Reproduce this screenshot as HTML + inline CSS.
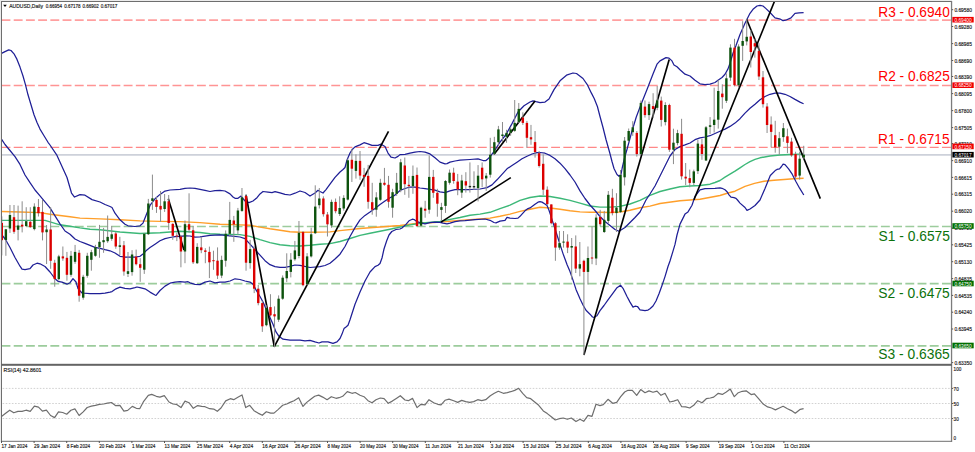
<!DOCTYPE html>
<html><head><meta charset="utf-8"><title>AUDUSD Daily</title>
<style>html,body{margin:0;padding:0;background:#fff;width:975px;height:452px;overflow:hidden;font-family:"Liberation Sans", sans-serif;}</style>
</head><body>
<svg width="975" height="452" viewBox="0 0 975 452" style="display:block"><rect x="0" y="0" width="975" height="452" fill="#ffffff"/><rect x="0" y="0" width="952" height="1" fill="#ececec"/><rect x="0" y="0" width="1" height="442" fill="#ececec"/><defs><clipPath id="cm"><rect x="1.5" y="1.5" width="949.5" height="362.5"/></clipPath><clipPath id="cr"><rect x="1.5" y="366" width="949.5" height="75"/></clipPath></defs><line x1="1.5" y1="20.1" x2="951" y2="20.1" stroke="#ffa0a0" stroke-width="1.8" stroke-dasharray="8.9 3.314"/><line x1="1.5" y1="85.4" x2="951" y2="85.4" stroke="#ff9494" stroke-width="1.5" stroke-dasharray="8.9 3.314"/><line x1="1.5" y1="147.4" x2="951" y2="147.4" stroke="#ff8888" stroke-width="1.3" stroke-dasharray="8.9 3.314"/><line x1="1.5" y1="226.5" x2="951" y2="226.5" stroke="#9ccc9c" stroke-width="1.7" stroke-dasharray="8.9 3.314"/><line x1="1.5" y1="283.6" x2="951" y2="283.6" stroke="#9ccc9c" stroke-width="1.7" stroke-dasharray="8.9 3.314"/><line x1="1.5" y1="345.8" x2="951" y2="345.8" stroke="#9ccc9c" stroke-width="1.7" stroke-dasharray="8.9 3.314"/><line x1="1.5" y1="154.9" x2="951" y2="154.9" stroke="#cdd1da" stroke-width="1.8"/><g clip-path="url(#cm)"><path d="M1.5,211.5 L20.0,212.0 L40.0,212.6 L50.0,214.2 L60.0,215.5 L70.0,216.8 L80.0,218.1 L100.0,218.9 L120.0,219.8 L140.0,220.9 L160.0,221.4 L180.0,221.6 L200.0,222.6 L220.0,224.2 L240.0,224.9 L250.0,225.3 L260.0,227.1 L270.0,228.8 L280.0,230.2 L290.0,231.8 L300.0,232.3 L310.0,232.3 L320.0,232.1 L330.0,231.9 L340.0,230.6 L360.0,228.5 L380.0,227.0 L400.0,225.5 L410.0,224.2 L420.0,223.0 L430.0,222.7 L440.0,222.1 L450.0,221.3 L460.0,220.4 L480.0,219.0 L490.0,218.1 L500.0,216.3 L510.0,214.1 L520.0,211.4 L530.0,209.2 L540.0,207.3 L550.0,208.0 L560.0,209.3 L570.0,210.8 L580.0,211.9 L590.0,212.2 L600.0,212.3 L610.0,212.5 L620.0,212.0 L630.0,210.3 L640.0,207.8 L650.0,206.1 L660.0,203.5 L680.0,200.8 L700.0,199.3 L720.0,195.5 L728.0,193.0 L735.0,191.2 L745.0,186.4 L754.5,183.4 L764.0,181.3 L774.0,180.3 L784.0,179.5 L793.5,178.7 L803.6,178.2" fill="none" stroke="#ff9f2a" stroke-width="1.4" stroke-linejoin="round"/><path d="M1.5,220.4 L45.0,220.4 L50.0,221.9 L60.0,224.8 L70.0,226.3 L80.0,227.9 L90.0,229.2 L100.0,229.7 L120.0,232.0 L140.0,233.5 L160.0,232.7 L180.0,231.3 L200.0,232.5 L210.0,233.7 L220.0,234.2 L240.0,234.6 L250.0,236.4 L260.0,239.7 L270.0,242.6 L280.0,244.8 L290.0,245.7 L300.0,246.0 L310.0,245.3 L320.0,244.2 L330.0,243.6 L340.0,241.5 L350.0,238.5 L360.0,235.4 L370.0,233.3 L380.0,231.3 L390.0,229.3 L400.0,227.1 L410.0,224.9 L420.0,223.2 L440.0,221.4 L460.0,217.5 L470.0,215.2 L480.0,214.1 L490.0,212.3 L500.0,208.6 L510.0,205.2 L520.0,200.4 L530.0,197.5 L540.0,196.0 L550.0,196.5 L560.0,198.2 L570.0,200.4 L580.0,203.1 L590.0,206.0 L600.0,207.1 L610.0,207.1 L620.0,206.4 L630.0,204.0 L640.0,200.4 L650.0,195.3 L660.0,191.5 L670.0,189.0 L680.0,186.7 L690.0,186.0 L700.0,185.5 L710.0,184.2 L715.0,182.5 L720.0,180.5 L725.0,177.2 L730.0,174.2 L735.0,171.2 L740.0,167.8 L745.0,164.5 L750.0,161.7 L755.0,159.4 L760.0,157.8 L770.0,156.0 L780.0,155.0 L790.0,154.5 L800.0,154.1 L803.6,154.1" fill="none" stroke="#3cb878" stroke-width="1.4" stroke-linejoin="round"/><path d="M1.5,53.4 L5.0,51.6 L8.8,49.9 L11.0,50.5 L14.0,53.8 L17.0,59.4 L20.0,67.1 L23.0,76.0 L25.5,84.8 L28.0,94.8 L31.0,104.7 L34.0,114.7 L37.0,122.4 L40.0,129.1 L44.0,135.7 L48.0,142.3 L50.0,145.0 L57.0,155.4 L62.0,166.5 L67.0,177.5 L71.5,193.0 L74.5,197.0 L80.0,194.6 L85.0,195.2 L92.0,199.6 L100.0,202.0 L105.0,204.5 L110.0,206.5 L112.0,207.5 L115.0,213.2 L120.0,219.8 L125.0,224.2 L128.0,225.8 L135.0,226.5 L140.0,225.8 L143.0,223.1 L146.0,215.4 L150.0,205.4 L155.0,198.8 L160.0,194.4 L165.0,191.1 L170.0,190.0 L180.0,189.3 L185.0,188.4 L190.0,188.0 L195.0,188.4 L200.0,189.4 L205.0,190.4 L210.0,191.5 L215.0,190.6 L220.0,190.4 L225.0,191.0 L230.0,193.9 L233.0,197.0 L235.0,198.3 L238.0,198.3 L241.0,196.1 L245.0,201.0 L249.0,202.7 L253.0,201.0 L257.0,197.7 L260.0,193.9 L263.0,191.5 L268.0,192.1 L272.0,192.6 L275.0,191.7 L280.0,192.8 L285.0,194.3 L290.0,195.0 L295.0,193.2 L300.0,191.0 L305.0,192.5 L310.0,196.0 L315.0,193.0 L318.0,190.3 L320.0,191.5 L323.0,193.0 L326.0,189.6 L330.0,184.1 L335.0,177.4 L340.0,172.0 L343.0,169.5 L345.0,167.5 L347.0,160.0 L350.0,153.0 L352.0,149.8 L355.0,146.9 L360.0,144.9 L364.0,142.7 L368.0,143.8 L372.0,145.4 L378.0,145.4 L381.0,144.2 L385.0,146.5 L388.0,153.1 L391.0,157.1 L395.0,158.0 L398.0,156.4 L400.0,154.6 L405.0,154.3 L410.0,153.2 L415.0,152.1 L420.0,151.5 L425.0,152.1 L430.0,153.9 L435.0,157.7 L440.0,162.1 L445.0,163.8 L447.0,163.6 L450.0,162.1 L455.0,161.0 L460.0,160.2 L470.0,159.5 L478.0,158.8 L483.0,160.5 L486.0,160.5 L488.0,158.8 L490.0,156.9 L495.0,150.0 L500.0,142.2 L506.0,134.5 L512.0,123.6 L518.0,112.0 L524.0,105.8 L530.0,102.0 L533.0,100.8 L536.0,101.7 L540.0,102.6 L545.0,102.1 L549.0,99.0 L554.0,89.6 L560.0,80.8 L566.5,75.2 L573.0,73.0 L576.5,73.5 L583.0,78.5 L587.6,85.2 L591.3,92.9 L594.2,98.5 L597.4,106.5 L600.0,116.5 L603.0,127.5 L606.0,139.5 L609.8,153.0 L612.0,161.5 L614.0,168.5 L617.0,174.5 L619.0,176.3 L621.0,174.5 L622.2,168.0 L624.5,158.0 L626.9,149.8 L631.5,132.8 L636.2,117.3 L640.8,104.9 L647.0,89.5 L653.2,73.5 L657.0,64.2 L660.0,60.9 L666.0,57.6 L669.0,58.1 L672.0,60.9 L674.0,65.0 L677.0,66.8 L680.0,69.8 L685.0,74.2 L690.0,76.0 L695.0,80.3 L700.0,83.8 L705.0,84.7 L710.0,84.2 L715.0,82.5 L718.0,80.3 L722.0,77.5 L725.0,74.3 L728.0,68.9 L730.0,63.3 L733.0,53.2 L736.0,45.5 L740.0,34.5 L745.0,23.2 L750.0,13.3 L753.0,9.3 L757.0,6.0 L760.0,5.3 L763.0,6.0 L766.0,8.6 L770.0,12.5 L775.0,17.9 L780.4,19.2 L783.0,20.6 L785.7,20.2 L791.0,17.9 L795.0,13.3 L799.0,12.9 L803.6,12.6" fill="none" stroke="#1f1f96" stroke-width="1.25" stroke-linejoin="round"/><path d="M1.5,139.0 L5.0,144.5 L10.0,150.5 L15.0,156.6 L20.0,164.4 L25.0,175.0 L30.0,182.7 L35.0,190.0 L40.0,195.9 L45.0,201.9 L50.0,207.9 L55.0,215.8 L60.0,223.8 L65.0,231.0 L70.0,234.2 L75.0,239.0 L80.0,241.5 L85.0,243.3 L90.0,245.3 L95.0,247.3 L100.0,248.3 L105.0,249.7 L110.0,250.8 L115.0,253.0 L120.0,256.3 L125.0,257.0 L135.0,257.0 L140.0,256.3 L143.0,254.1 L146.0,250.8 L150.0,247.5 L155.0,244.2 L160.0,240.8 L165.0,238.6 L170.0,237.5 L175.0,236.6 L180.0,236.4 L185.0,235.8 L190.0,236.0 L195.0,237.1 L200.0,236.8 L210.0,235.3 L220.0,234.8 L230.0,235.9 L240.0,237.0 L245.0,238.6 L250.0,244.1 L255.0,249.6 L260.0,255.2 L265.0,260.7 L270.0,264.7 L275.0,266.7 L280.0,267.3 L285.0,267.3 L290.0,266.4 L295.0,265.0 L300.0,265.3 L310.0,267.5 L320.0,266.7 L325.0,265.5 L330.0,263.2 L335.0,259.0 L340.0,254.2 L345.0,246.5 L350.0,236.5 L355.0,227.6 L360.0,219.9 L365.0,215.4 L370.0,212.1 L375.0,208.4 L380.0,204.4 L385.0,201.0 L390.0,197.7 L395.0,195.1 L400.0,190.5 L405.0,188.5 L410.0,187.0 L415.0,187.1 L420.0,188.0 L425.0,188.6 L430.0,189.3 L435.0,190.2 L440.0,191.9 L445.0,192.6 L450.0,190.8 L455.0,189.7 L460.0,189.5 L470.0,189.5 L480.0,189.0 L487.0,187.6 L492.0,184.9 L497.0,179.8 L502.0,174.3 L507.0,168.8 L512.0,165.5 L517.0,162.2 L522.0,158.8 L527.0,156.2 L532.0,154.0 L537.0,152.7 L540.0,152.5 L545.0,153.2 L550.0,155.4 L555.0,158.7 L560.0,163.2 L565.0,168.7 L570.0,175.0 L575.0,182.0 L580.0,190.9 L585.0,198.5 L590.0,205.0 L595.0,210.5 L600.0,216.5 L605.0,221.5 L610.0,225.5 L615.0,229.5 L619.0,231.3 L625.0,227.5 L630.0,222.5 L635.0,217.5 L640.0,212.0 L646.0,200.0 L650.0,194.0 L655.0,186.0 L660.0,176.0 L665.0,166.0 L670.0,156.0 L675.0,149.5 L680.0,146.6 L685.0,144.9 L690.0,143.0 L695.0,139.7 L700.0,137.9 L705.0,137.0 L710.0,135.7 L715.0,133.5 L720.0,131.3 L725.0,129.1 L730.0,126.4 L735.0,123.1 L740.0,118.7 L745.0,113.1 L750.0,108.3 L755.0,104.3 L760.0,99.8 L765.0,96.5 L770.0,94.3 L775.0,93.2 L780.0,93.2 L785.0,94.3 L790.0,96.5 L795.0,99.4 L800.0,102.1 L803.6,103.8" fill="none" stroke="#1f1f96" stroke-width="1.25" stroke-linejoin="round"/><path d="M1.5,234.4 L5.5,239.5 L10.0,247.5 L15.0,257.5 L20.0,266.2 L22.0,269.2 L25.0,269.6 L30.0,268.7 L33.0,265.0 L37.0,263.2 L40.0,263.8 L45.0,266.5 L50.0,272.0 L55.0,278.7 L58.0,281.3 L62.0,282.2 L67.0,284.2 L70.0,282.7 L73.0,278.7 L76.0,282.0 L78.0,288.6 L82.0,293.0 L90.0,293.7 L100.0,293.6 L105.0,293.2 L110.0,292.1 L112.0,291.6 L116.0,288.8 L120.0,287.2 L125.0,288.3 L130.0,288.8 L135.0,287.7 L137.0,287.0 L140.0,287.7 L145.0,288.8 L150.0,292.1 L155.0,295.0 L156.0,295.4 L160.0,290.5 L165.0,286.1 L170.0,283.2 L175.0,282.1 L180.0,281.7 L185.0,282.1 L188.0,281.7 L190.0,282.8 L195.0,284.3 L200.0,284.6 L205.0,282.1 L210.0,281.0 L215.0,282.8 L220.0,282.1 L225.0,282.1 L230.0,281.0 L235.0,278.8 L240.0,279.5 L245.0,281.0 L250.0,282.1 L253.0,284.3 L256.0,289.9 L260.0,296.5 L263.0,302.0 L266.0,308.7 L270.0,317.5 L273.0,324.2 L276.0,331.9 L279.0,336.3 L283.0,339.2 L290.0,340.1 L300.0,340.1 L305.0,340.8 L310.0,340.3 L315.0,341.9 L319.0,343.0 L322.0,341.9 L328.0,341.9 L333.0,343.4 L337.0,341.9 L340.0,338.5 L342.0,334.1 L344.0,328.6 L346.0,327.0 L348.0,325.3 L350.0,319.7 L355.0,304.2 L360.0,292.1 L365.0,281.0 L370.0,272.0 L375.0,266.6 L378.0,265.3 L380.0,263.5 L382.0,258.0 L384.0,249.0 L386.7,240.8 L389.0,235.0 L391.8,231.5 L396.0,229.5 L400.0,229.0 L402.0,228.0 L406.0,224.4 L409.0,220.8 L412.3,219.2 L414.4,219.7 L416.4,221.3 L420.0,222.7 L425.0,223.8 L430.0,222.7 L435.0,222.1 L440.0,222.3 L443.0,223.2 L447.0,223.8 L450.0,223.2 L455.0,221.6 L460.0,220.8 L465.0,220.7 L475.0,219.6 L485.0,219.0 L490.0,220.3 L494.0,222.5 L496.0,222.9 L500.0,221.2 L505.0,220.3 L507.0,217.4 L510.0,218.1 L515.0,218.5 L518.0,218.1 L520.0,216.3 L522.0,214.1 L525.0,210.8 L528.0,208.6 L530.0,207.9 L535.0,204.3 L538.0,202.2 L540.0,201.6 L542.0,202.1 L545.0,204.0 L547.0,205.5 L549.0,210.2 L551.0,216.4 L553.0,222.6 L555.0,228.8 L557.0,235.0 L559.0,241.2 L561.0,247.4 L563.0,253.6 L565.0,259.0 L567.0,264.5 L570.0,271.6 L573.0,280.1 L576.0,289.4 L580.0,298.7 L583.0,305.0 L586.0,310.3 L590.0,314.2 L592.5,317.0 L594.0,317.3 L597.0,315.7 L600.0,310.6 L604.0,305.5 L608.0,299.9 L613.0,293.2 L617.0,287.7 L620.5,285.2 L623.0,288.3 L627.0,296.5 L630.0,302.1 L633.0,307.1 L635.0,306.2 L637.5,306.5 L640.0,309.8 L645.0,310.6 L648.0,310.1 L650.0,308.7 L653.0,306.0 L656.0,301.0 L659.0,293.8 L662.0,285.5 L665.0,276.6 L668.0,266.5 L670.0,261.0 L673.0,251.1 L675.0,244.4 L677.0,235.0 L680.0,224.1 L685.0,214.1 L688.0,211.9 L692.0,205.3 L695.0,196.4 L700.0,189.8 L705.0,188.6 L715.0,188.3 L720.0,187.9 L722.0,188.3 L725.0,189.8 L727.0,191.7 L729.0,194.8 L731.0,197.2 L734.0,197.6 L736.0,198.3 L737.5,200.0 L740.0,203.1 L745.0,207.5 L747.0,210.4 L750.0,209.0 L755.0,205.5 L760.0,200.0 L765.0,188.5 L770.3,175.5 L775.2,170.6 L777.0,169.4 L779.5,168.8 L781.5,166.5 L783.1,164.2 L785.0,164.6 L788.6,168.8 L792.2,174.2 L795.9,181.5 L799.6,188.2 L803.8,195.0" fill="none" stroke="#1f1f96" stroke-width="1.25" stroke-linejoin="round"/><line x1="168.3" y1="198.7" x2="184" y2="250" stroke="#000" stroke-width="1.65"/><line x1="246" y1="195" x2="274.3" y2="346.7" stroke="#000" stroke-width="1.65"/><line x1="274.3" y1="346.7" x2="388.5" y2="131.4" stroke="#000" stroke-width="1.65"/><line x1="441" y1="222.1" x2="510.8" y2="177.6" stroke="#000" stroke-width="1.65"/><line x1="493.9" y1="154.6" x2="535" y2="100.9" stroke="#000" stroke-width="1.65"/><line x1="583.9" y1="355" x2="669.2" y2="59.4" stroke="#000" stroke-width="1.65"/><line x1="694" y1="199.7" x2="774.4" y2="1.5" stroke="#000" stroke-width="1.65"/><line x1="746.6" y1="19.2" x2="820.3" y2="198.6" stroke="#000" stroke-width="1.65"/><rect x="1.30" y="216.3" width="1" height="39.1" fill="#8c8c8c"/><rect x="0.60" y="222.9" width="2.4" height="17.3" fill="#dc0000"/><rect x="5.37" y="228.9" width="1" height="26.9" fill="#8c8c8c"/><rect x="4.67" y="229.3" width="2.4" height="10.7" fill="#0c520c"/><rect x="9.44" y="205.0" width="1" height="27.9" fill="#8c8c8c"/><rect x="8.74" y="215.0" width="2.4" height="13.5" fill="#0c520c"/><rect x="13.51" y="205.0" width="1" height="28.8" fill="#8c8c8c"/><rect x="12.81" y="217.2" width="2.4" height="14.6" fill="#dc0000"/><rect x="17.58" y="205.6" width="1" height="34.8" fill="#8c8c8c"/><rect x="16.88" y="225.5" width="2.4" height="4.3" fill="#0c520c"/><rect x="21.65" y="201.3" width="1" height="31.1" fill="#8c8c8c"/><rect x="20.95" y="224.7" width="2.4" height="1.8" fill="#dc0000"/><rect x="25.72" y="207.2" width="1" height="19.8" fill="#8c8c8c"/><rect x="25.02" y="221.2" width="2.4" height="4.8" fill="#0c520c"/><rect x="29.79" y="207.2" width="1" height="20.6" fill="#8c8c8c"/><rect x="29.09" y="221.8" width="2.4" height="5.3" fill="#dc0000"/><rect x="33.86" y="203.3" width="1" height="27.1" fill="#8c8c8c"/><rect x="33.16" y="206.6" width="2.4" height="22.5" fill="#0c520c"/><rect x="37.94" y="199.0" width="1" height="17.5" fill="#8c8c8c"/><rect x="37.24" y="207.0" width="2.4" height="6.2" fill="#dc0000"/><rect x="42.01" y="200.0" width="1" height="40.4" fill="#8c8c8c"/><rect x="41.31" y="211.9" width="2.4" height="20.5" fill="#dc0000"/><rect x="46.08" y="225.0" width="1" height="39.0" fill="#8c8c8c"/><rect x="45.38" y="229.5" width="2.4" height="2.7" fill="#0c520c"/><rect x="50.15" y="207.2" width="1" height="61.6" fill="#8c8c8c"/><rect x="49.45" y="229.5" width="2.4" height="31.3" fill="#dc0000"/><rect x="54.22" y="259.8" width="1" height="26.9" fill="#8c8c8c"/><rect x="53.52" y="262.8" width="2.4" height="16.3" fill="#dc0000"/><rect x="58.29" y="254.8" width="1" height="25.9" fill="#8c8c8c"/><rect x="57.59" y="256.4" width="2.4" height="22.7" fill="#0c520c"/><rect x="62.36" y="246.5" width="1" height="14.3" fill="#8c8c8c"/><rect x="61.66" y="256.4" width="2.4" height="2.0" fill="#dc0000"/><rect x="66.43" y="251.9" width="1" height="28.8" fill="#8c8c8c"/><rect x="65.73" y="257.8" width="2.4" height="17.0" fill="#dc0000"/><rect x="70.50" y="250.9" width="1" height="25.9" fill="#8c8c8c"/><rect x="69.80" y="255.8" width="2.4" height="19.0" fill="#0c520c"/><rect x="74.57" y="244.9" width="1" height="18.9" fill="#8c8c8c"/><rect x="73.87" y="251.9" width="2.4" height="9.9" fill="#0c520c"/><rect x="78.64" y="249.9" width="1" height="51.8" fill="#8c8c8c"/><rect x="77.94" y="252.8" width="2.4" height="42.9" fill="#dc0000"/><rect x="82.71" y="274.8" width="1" height="24.9" fill="#8c8c8c"/><rect x="82.01" y="276.8" width="2.4" height="20.9" fill="#0c520c"/><rect x="86.78" y="252.8" width="1" height="24.9" fill="#8c8c8c"/><rect x="86.08" y="255.8" width="2.4" height="20.0" fill="#0c520c"/><rect x="90.85" y="249.8" width="1" height="20.9" fill="#8c8c8c"/><rect x="90.15" y="252.2" width="2.4" height="7.6" fill="#0c520c"/><rect x="94.92" y="244.8" width="1" height="12.0" fill="#8c8c8c"/><rect x="94.22" y="247.2" width="2.4" height="8.6" fill="#0c520c"/><rect x="98.99" y="224.9" width="1" height="32.9" fill="#8c8c8c"/><rect x="98.29" y="241.8" width="2.4" height="5.4" fill="#0c520c"/><rect x="103.06" y="227.9" width="1" height="24.9" fill="#8c8c8c"/><rect x="102.36" y="240.2" width="2.4" height="2.0" fill="#0c520c"/><rect x="107.14" y="215.5" width="1" height="27.3" fill="#8c8c8c"/><rect x="106.44" y="236.9" width="2.4" height="4.3" fill="#0c520c"/><rect x="111.21" y="225.9" width="1" height="14.9" fill="#8c8c8c"/><rect x="110.51" y="234.3" width="2.4" height="4.5" fill="#0c520c"/><rect x="115.28" y="231.9" width="1" height="16.9" fill="#8c8c8c"/><rect x="114.58" y="233.5" width="2.4" height="13.0" fill="#dc0000"/><rect x="119.35" y="236.8" width="1" height="18.2" fill="#8c8c8c"/><rect x="118.65" y="245.3" width="2.4" height="1.6" fill="#0c520c"/><rect x="123.42" y="241.0" width="1" height="34.7" fill="#8c8c8c"/><rect x="122.72" y="245.3" width="2.4" height="26.2" fill="#dc0000"/><rect x="127.49" y="252.0" width="1" height="25.0" fill="#8c8c8c"/><rect x="126.79" y="271.2" width="2.4" height="2.7" fill="#0c520c"/><rect x="131.56" y="250.2" width="1" height="25.5" fill="#8c8c8c"/><rect x="130.86" y="254.5" width="2.4" height="17.6" fill="#0c520c"/><rect x="135.63" y="249.6" width="1" height="15.8" fill="#8c8c8c"/><rect x="134.93" y="256.6" width="2.4" height="7.6" fill="#dc0000"/><rect x="139.70" y="258.1" width="1" height="23.7" fill="#8c8c8c"/><rect x="139.00" y="264.2" width="2.4" height="3.6" fill="#dc0000"/><rect x="143.77" y="233.0" width="1" height="40.9" fill="#8c8c8c"/><rect x="143.07" y="233.8" width="2.4" height="35.9" fill="#0c520c"/><rect x="147.84" y="198.9" width="1" height="36.1" fill="#8c8c8c"/><rect x="147.14" y="203.5" width="2.4" height="30.7" fill="#0c520c"/><rect x="151.91" y="174.6" width="1" height="35.3" fill="#8c8c8c"/><rect x="151.21" y="198.3" width="2.4" height="2.6" fill="#0c520c"/><rect x="155.98" y="196.9" width="1" height="16.0" fill="#8c8c8c"/><rect x="155.28" y="199.9" width="2.4" height="7.0" fill="#dc0000"/><rect x="160.05" y="191.0" width="1" height="30.8" fill="#8c8c8c"/><rect x="159.35" y="205.9" width="2.4" height="3.6" fill="#dc0000"/><rect x="164.12" y="194.0" width="1" height="17.9" fill="#8c8c8c"/><rect x="163.42" y="201.3" width="2.4" height="7.7" fill="#0c520c"/><rect x="168.19" y="195.0" width="1" height="34.8" fill="#8c8c8c"/><rect x="167.49" y="201.3" width="2.4" height="21.7" fill="#dc0000"/><rect x="172.27" y="223.2" width="1" height="16.6" fill="#8c8c8c"/><rect x="171.57" y="223.9" width="2.4" height="11.9" fill="#dc0000"/><rect x="176.34" y="232.5" width="1" height="8.6" fill="#8c8c8c"/><rect x="175.64" y="235.5" width="2.4" height="1.0" fill="#dc0000"/><rect x="180.41" y="235.0" width="1" height="32.3" fill="#8c8c8c"/><rect x="179.71" y="236.6" width="2.4" height="14.9" fill="#dc0000"/><rect x="184.48" y="220.5" width="1" height="42.7" fill="#8c8c8c"/><rect x="183.78" y="224.2" width="2.4" height="27.3" fill="#0c520c"/><rect x="188.55" y="193.3" width="1" height="39.2" fill="#8c8c8c"/><rect x="187.85" y="224.2" width="2.4" height="5.5" fill="#dc0000"/><rect x="192.62" y="225.9" width="1" height="38.1" fill="#8c8c8c"/><rect x="191.92" y="230.3" width="2.4" height="32.0" fill="#dc0000"/><rect x="196.69" y="243.2" width="1" height="20.8" fill="#8c8c8c"/><rect x="195.99" y="246.9" width="2.4" height="16.3" fill="#0c520c"/><rect x="200.76" y="236.6" width="1" height="16.6" fill="#8c8c8c"/><rect x="200.06" y="247.4" width="2.4" height="2.8" fill="#dc0000"/><rect x="204.83" y="248.2" width="1" height="15.0" fill="#8c8c8c"/><rect x="204.13" y="250.4" width="2.4" height="1.5" fill="#dc0000"/><rect x="208.90" y="246.6" width="1" height="31.5" fill="#8c8c8c"/><rect x="208.20" y="251.9" width="2.4" height="10.4" fill="#dc0000"/><rect x="212.97" y="250.7" width="1" height="19.1" fill="#8c8c8c"/><rect x="212.27" y="260.2" width="2.4" height="1.0" fill="#dc0000"/><rect x="217.04" y="247.4" width="1" height="31.6" fill="#8c8c8c"/><rect x="216.34" y="260.7" width="2.4" height="14.9" fill="#dc0000"/><rect x="221.11" y="255.7" width="1" height="22.4" fill="#8c8c8c"/><rect x="220.41" y="259.9" width="2.4" height="15.7" fill="#0c520c"/><rect x="225.18" y="230.4" width="1" height="36.3" fill="#8c8c8c"/><rect x="224.48" y="233.8" width="2.4" height="26.9" fill="#0c520c"/><rect x="229.25" y="201.9" width="1" height="34.9" fill="#8c8c8c"/><rect x="228.55" y="219.9" width="2.4" height="13.9" fill="#0c520c"/><rect x="233.32" y="215.9" width="1" height="25.9" fill="#8c8c8c"/><rect x="232.62" y="220.5" width="2.4" height="3.9" fill="#dc0000"/><rect x="237.39" y="207.9" width="1" height="26.9" fill="#8c8c8c"/><rect x="236.69" y="210.5" width="2.4" height="19.9" fill="#0c520c"/><rect x="241.47" y="188.0" width="1" height="23.9" fill="#8c8c8c"/><rect x="240.77" y="197.4" width="2.4" height="13.5" fill="#0c520c"/><rect x="245.54" y="194.0" width="1" height="76.7" fill="#8c8c8c"/><rect x="244.84" y="196.0" width="2.4" height="66.7" fill="#dc0000"/><rect x="249.61" y="239.8" width="1" height="28.9" fill="#8c8c8c"/><rect x="248.91" y="249.1" width="2.4" height="14.0" fill="#0c520c"/><rect x="253.68" y="245.8" width="1" height="47.3" fill="#8c8c8c"/><rect x="252.98" y="248.7" width="2.4" height="40.0" fill="#dc0000"/><rect x="257.75" y="285.0" width="1" height="20.3" fill="#8c8c8c"/><rect x="257.05" y="288.7" width="2.4" height="14.4" fill="#dc0000"/><rect x="261.82" y="300.9" width="1" height="31.0" fill="#8c8c8c"/><rect x="261.12" y="303.1" width="2.4" height="23.2" fill="#dc0000"/><rect x="265.89" y="305.3" width="1" height="21.0" fill="#8c8c8c"/><rect x="265.19" y="308.0" width="2.4" height="17.2" fill="#0c520c"/><rect x="269.96" y="294.2" width="1" height="22.2" fill="#8c8c8c"/><rect x="269.26" y="307.1" width="2.4" height="8.2" fill="#dc0000"/><rect x="274.03" y="306.4" width="1" height="40.9" fill="#8c8c8c"/><rect x="273.33" y="314.2" width="2.4" height="2.2" fill="#dc0000"/><rect x="278.10" y="295.4" width="1" height="26.5" fill="#8c8c8c"/><rect x="277.40" y="298.7" width="2.4" height="21.0" fill="#0c520c"/><rect x="282.17" y="275.4" width="1" height="24.4" fill="#8c8c8c"/><rect x="281.47" y="277.7" width="2.4" height="21.0" fill="#0c520c"/><rect x="286.24" y="253.3" width="1" height="28.8" fill="#8c8c8c"/><rect x="285.54" y="271.0" width="2.4" height="7.3" fill="#0c520c"/><rect x="290.31" y="253.1" width="1" height="24.3" fill="#8c8c8c"/><rect x="289.61" y="259.7" width="2.4" height="12.2" fill="#0c520c"/><rect x="294.38" y="240.9" width="1" height="19.9" fill="#8c8c8c"/><rect x="293.68" y="250.4" width="2.4" height="8.9" fill="#0c520c"/><rect x="298.45" y="221.0" width="1" height="37.3" fill="#8c8c8c"/><rect x="297.75" y="232.8" width="2.4" height="23.2" fill="#0c520c"/><rect x="302.52" y="231.0" width="1" height="55.3" fill="#8c8c8c"/><rect x="301.82" y="232.1" width="2.4" height="53.1" fill="#dc0000"/><rect x="306.59" y="253.1" width="1" height="32.1" fill="#8c8c8c"/><rect x="305.89" y="256.4" width="2.4" height="27.7" fill="#0c520c"/><rect x="310.67" y="227.7" width="1" height="29.8" fill="#8c8c8c"/><rect x="309.97" y="234.3" width="2.4" height="22.1" fill="#0c520c"/><rect x="314.74" y="185.3" width="1" height="48.7" fill="#8c8c8c"/><rect x="314.04" y="206.6" width="2.4" height="26.6" fill="#0c520c"/><rect x="318.81" y="188.0" width="1" height="20.5" fill="#8c8c8c"/><rect x="318.11" y="198.5" width="2.4" height="6.7" fill="#0c520c"/><rect x="322.88" y="196.3" width="1" height="20.3" fill="#8c8c8c"/><rect x="322.18" y="198.5" width="2.4" height="15.7" fill="#dc0000"/><rect x="326.95" y="212.0" width="1" height="24.5" fill="#8c8c8c"/><rect x="326.25" y="214.5" width="2.4" height="9.8" fill="#dc0000"/><rect x="331.02" y="199.6" width="1" height="28.1" fill="#8c8c8c"/><rect x="330.32" y="201.9" width="2.4" height="23.5" fill="#0c520c"/><rect x="335.09" y="198.5" width="1" height="14.8" fill="#8c8c8c"/><rect x="334.39" y="201.9" width="2.4" height="9.3" fill="#dc0000"/><rect x="339.16" y="196.3" width="1" height="19.7" fill="#8c8c8c"/><rect x="338.46" y="208.0" width="2.4" height="6.0" fill="#0c520c"/><rect x="343.23" y="195.2" width="1" height="15.5" fill="#8c8c8c"/><rect x="342.53" y="197.9" width="2.4" height="10.6" fill="#0c520c"/><rect x="347.30" y="158.7" width="1" height="41.8" fill="#8c8c8c"/><rect x="346.60" y="160.3" width="2.4" height="39.3" fill="#0c520c"/><rect x="351.37" y="148.8" width="1" height="33.2" fill="#8c8c8c"/><rect x="350.67" y="159.8" width="2.4" height="8.9" fill="#dc0000"/><rect x="355.44" y="154.3" width="1" height="24.3" fill="#8c8c8c"/><rect x="354.74" y="160.9" width="2.4" height="10.0" fill="#0c520c"/><rect x="359.51" y="151.0" width="1" height="28.8" fill="#8c8c8c"/><rect x="358.81" y="160.9" width="2.4" height="14.7" fill="#dc0000"/><rect x="363.58" y="167.9" width="1" height="18.9" fill="#8c8c8c"/><rect x="362.88" y="174.9" width="2.4" height="2.0" fill="#dc0000"/><rect x="367.65" y="164.9" width="1" height="43.8" fill="#8c8c8c"/><rect x="366.95" y="175.9" width="2.4" height="25.9" fill="#dc0000"/><rect x="371.72" y="182.8" width="1" height="31.9" fill="#8c8c8c"/><rect x="371.02" y="202.2" width="2.4" height="7.5" fill="#dc0000"/><rect x="375.80" y="192.2" width="1" height="24.5" fill="#8c8c8c"/><rect x="375.10" y="197.4" width="2.4" height="12.3" fill="#0c520c"/><rect x="379.87" y="178.8" width="1" height="22.0" fill="#8c8c8c"/><rect x="379.17" y="182.8" width="2.4" height="17.0" fill="#0c520c"/><rect x="383.94" y="167.9" width="1" height="17.9" fill="#8c8c8c"/><rect x="383.24" y="182.8" width="2.4" height="2.0" fill="#dc0000"/><rect x="388.01" y="175.9" width="1" height="31.8" fill="#8c8c8c"/><rect x="387.31" y="184.8" width="2.4" height="17.0" fill="#dc0000"/><rect x="392.08" y="188.8" width="1" height="28.9" fill="#8c8c8c"/><rect x="391.38" y="192.2" width="2.4" height="15.5" fill="#0c520c"/><rect x="396.15" y="172.9" width="1" height="22.9" fill="#8c8c8c"/><rect x="395.45" y="182.8" width="2.4" height="11.0" fill="#0c520c"/><rect x="400.22" y="158.9" width="1" height="33.3" fill="#8c8c8c"/><rect x="399.52" y="162.3" width="2.4" height="27.5" fill="#0c520c"/><rect x="404.29" y="157.5" width="1" height="37.3" fill="#8c8c8c"/><rect x="403.59" y="165.5" width="2.4" height="18.7" fill="#dc0000"/><rect x="408.36" y="175.9" width="1" height="21.9" fill="#8c8c8c"/><rect x="407.66" y="184.8" width="2.4" height="1.4" fill="#dc0000"/><rect x="412.43" y="165.5" width="1" height="28.3" fill="#8c8c8c"/><rect x="411.73" y="175.9" width="2.4" height="10.3" fill="#0c520c"/><rect x="416.50" y="167.5" width="1" height="59.2" fill="#8c8c8c"/><rect x="415.80" y="174.9" width="2.4" height="51.2" fill="#dc0000"/><rect x="420.57" y="206.7" width="1" height="19.8" fill="#8c8c8c"/><rect x="419.87" y="207.7" width="2.4" height="18.0" fill="#0c520c"/><rect x="424.64" y="200.8" width="1" height="16.9" fill="#8c8c8c"/><rect x="423.94" y="208.7" width="2.4" height="2.0" fill="#dc0000"/><rect x="428.71" y="155.5" width="1" height="58.2" fill="#8c8c8c"/><rect x="428.01" y="176.9" width="2.4" height="32.8" fill="#0c520c"/><rect x="432.78" y="169.9" width="1" height="27.9" fill="#8c8c8c"/><rect x="432.08" y="176.9" width="2.4" height="15.9" fill="#dc0000"/><rect x="436.85" y="188.8" width="1" height="27.9" fill="#8c8c8c"/><rect x="436.15" y="192.8" width="2.4" height="10.9" fill="#dc0000"/><rect x="440.92" y="202.8" width="1" height="18.1" fill="#8c8c8c"/><rect x="440.22" y="207.1" width="2.4" height="2.8" fill="#0c520c"/><rect x="445.00" y="180.1" width="1" height="32.8" fill="#8c8c8c"/><rect x="444.30" y="181.0" width="2.4" height="24.9" fill="#0c520c"/><rect x="449.07" y="169.5" width="1" height="15.1" fill="#8c8c8c"/><rect x="448.37" y="172.7" width="2.4" height="10.1" fill="#0c520c"/><rect x="453.14" y="167.7" width="1" height="16.0" fill="#8c8c8c"/><rect x="452.44" y="172.7" width="2.4" height="8.3" fill="#dc0000"/><rect x="457.21" y="173.9" width="1" height="21.3" fill="#8c8c8c"/><rect x="456.51" y="181.6" width="2.4" height="7.8" fill="#dc0000"/><rect x="461.28" y="174.8" width="1" height="23.1" fill="#8c8c8c"/><rect x="460.58" y="180.5" width="2.4" height="12.1" fill="#0c520c"/><rect x="465.35" y="172.2" width="1" height="20.4" fill="#8c8c8c"/><rect x="464.65" y="181.2" width="2.4" height="4.3" fill="#dc0000"/><rect x="469.42" y="162.4" width="1" height="30.2" fill="#8c8c8c"/><rect x="468.72" y="185.9" width="2.4" height="1.4" fill="#1c2a1c"/><rect x="473.49" y="171.3" width="1" height="18.6" fill="#8c8c8c"/><rect x="472.79" y="186.0" width="2.4" height="1.4" fill="#1c2a1c"/><rect x="477.56" y="165.1" width="1" height="36.3" fill="#8c8c8c"/><rect x="476.86" y="175.7" width="2.4" height="12.4" fill="#0c520c"/><rect x="481.63" y="162.4" width="1" height="24.8" fill="#8c8c8c"/><rect x="480.93" y="167.7" width="2.4" height="11.6" fill="#dc0000"/><rect x="485.70" y="173.0" width="1" height="17.8" fill="#8c8c8c"/><rect x="485.00" y="175.7" width="2.4" height="2.7" fill="#0c520c"/><rect x="489.77" y="137.8" width="1" height="39.8" fill="#8c8c8c"/><rect x="489.07" y="154.7" width="2.4" height="20.0" fill="#0c520c"/><rect x="493.84" y="136.8" width="1" height="17.9" fill="#8c8c8c"/><rect x="493.14" y="142.2" width="2.4" height="11.5" fill="#0c520c"/><rect x="497.91" y="125.9" width="1" height="18.9" fill="#8c8c8c"/><rect x="497.21" y="129.4" width="2.4" height="12.8" fill="#0c520c"/><rect x="501.98" y="122.0" width="1" height="20.0" fill="#8c8c8c"/><rect x="501.28" y="134.5" width="2.4" height="1.5" fill="#0c520c"/><rect x="506.05" y="129.8" width="1" height="13.0" fill="#8c8c8c"/><rect x="505.35" y="132.8" width="2.4" height="4.0" fill="#0c520c"/><rect x="510.12" y="126.9" width="1" height="8.9" fill="#8c8c8c"/><rect x="509.43" y="129.4" width="2.4" height="3.4" fill="#0c520c"/><rect x="514.20" y="100.0" width="1" height="31.8" fill="#8c8c8c"/><rect x="513.50" y="122.9" width="2.4" height="7.9" fill="#0c520c"/><rect x="518.27" y="103.0" width="1" height="19.9" fill="#8c8c8c"/><rect x="517.57" y="108.9" width="2.4" height="13.0" fill="#0c520c"/><rect x="522.34" y="112.3" width="1" height="12.6" fill="#8c8c8c"/><rect x="521.64" y="117.5" width="2.4" height="5.4" fill="#dc0000"/><rect x="526.41" y="120.9" width="1" height="26.9" fill="#8c8c8c"/><rect x="525.71" y="122.9" width="2.4" height="14.9" fill="#dc0000"/><rect x="530.48" y="124.9" width="1" height="19.9" fill="#8c8c8c"/><rect x="529.78" y="137.2" width="2.4" height="2.2" fill="#dc0000"/><rect x="534.55" y="131.0" width="1" height="26.6" fill="#8c8c8c"/><rect x="533.85" y="142.1" width="2.4" height="10.0" fill="#dc0000"/><rect x="538.62" y="151.0" width="1" height="16.6" fill="#8c8c8c"/><rect x="537.92" y="153.2" width="2.4" height="12.8" fill="#dc0000"/><rect x="542.69" y="154.3" width="1" height="40.9" fill="#8c8c8c"/><rect x="541.99" y="163.8" width="2.4" height="25.9" fill="#dc0000"/><rect x="546.76" y="186.4" width="1" height="18.8" fill="#8c8c8c"/><rect x="546.06" y="189.7" width="2.4" height="14.4" fill="#dc0000"/><rect x="550.83" y="204.4" width="1" height="19.9" fill="#8c8c8c"/><rect x="550.13" y="204.4" width="2.4" height="18.8" fill="#dc0000"/><rect x="554.90" y="222.1" width="1" height="38.7" fill="#8c8c8c"/><rect x="554.20" y="223.2" width="2.4" height="24.4" fill="#dc0000"/><rect x="558.97" y="231.0" width="1" height="18.8" fill="#8c8c8c"/><rect x="558.27" y="243.1" width="2.4" height="4.5" fill="#0c520c"/><rect x="563.04" y="231.0" width="1" height="16.6" fill="#8c8c8c"/><rect x="562.34" y="241.6" width="2.4" height="1.0" fill="#0c520c"/><rect x="567.11" y="234.3" width="1" height="18.8" fill="#8c8c8c"/><rect x="566.41" y="241.6" width="2.4" height="6.0" fill="#dc0000"/><rect x="571.18" y="238.0" width="1" height="41.6" fill="#8c8c8c"/><rect x="570.48" y="246.0" width="2.4" height="1.6" fill="#0c520c"/><rect x="575.25" y="235.4" width="1" height="37.6" fill="#8c8c8c"/><rect x="574.55" y="246.5" width="2.4" height="22.1" fill="#dc0000"/><rect x="579.33" y="242.0" width="1" height="34.3" fill="#8c8c8c"/><rect x="578.63" y="264.2" width="2.4" height="4.4" fill="#0c520c"/><rect x="583.40" y="259.7" width="1" height="95.4" fill="#8c8c8c"/><rect x="582.70" y="260.8" width="2.4" height="11.1" fill="#dc0000"/><rect x="587.47" y="246.5" width="1" height="38.0" fill="#8c8c8c"/><rect x="586.77" y="258.0" width="2.4" height="13.9" fill="#0c520c"/><rect x="591.54" y="226.5" width="1" height="37.7" fill="#8c8c8c"/><rect x="590.84" y="257.5" width="2.4" height="1.0" fill="#dc0000"/><rect x="595.61" y="214.2" width="1" height="50.9" fill="#8c8c8c"/><rect x="594.91" y="217.6" width="2.4" height="40.9" fill="#0c520c"/><rect x="599.68" y="209.8" width="1" height="16.6" fill="#8c8c8c"/><rect x="598.98" y="216.9" width="2.4" height="7.3" fill="#dc0000"/><rect x="603.75" y="210.9" width="1" height="22.1" fill="#8c8c8c"/><rect x="603.05" y="219.8" width="2.4" height="12.2" fill="#0c520c"/><rect x="607.82" y="191.0" width="1" height="32.1" fill="#8c8c8c"/><rect x="607.12" y="194.8" width="2.4" height="26.1" fill="#0c520c"/><rect x="611.89" y="188.8" width="1" height="26.6" fill="#8c8c8c"/><rect x="611.19" y="197.7" width="2.4" height="15.4" fill="#dc0000"/><rect x="615.96" y="193.2" width="1" height="38.8" fill="#8c8c8c"/><rect x="615.26" y="207.6" width="2.4" height="5.5" fill="#0c520c"/><rect x="620.03" y="170.0" width="1" height="43.0" fill="#8c8c8c"/><rect x="619.33" y="174.9" width="2.4" height="37.1" fill="#0c520c"/><rect x="624.10" y="137.0" width="1" height="48.5" fill="#8c8c8c"/><rect x="623.40" y="140.7" width="2.4" height="36.6" fill="#0c520c"/><rect x="628.17" y="128.5" width="1" height="13.5" fill="#8c8c8c"/><rect x="627.47" y="131.0" width="2.4" height="9.7" fill="#0c520c"/><rect x="632.24" y="121.2" width="1" height="14.7" fill="#8c8c8c"/><rect x="631.54" y="127.3" width="2.4" height="4.9" fill="#0c520c"/><rect x="636.31" y="131.0" width="1" height="25.6" fill="#8c8c8c"/><rect x="635.61" y="132.9" width="2.4" height="21.2" fill="#dc0000"/><rect x="640.38" y="100.5" width="1" height="54.5" fill="#8c8c8c"/><rect x="639.68" y="102.9" width="2.4" height="51.2" fill="#0c520c"/><rect x="644.45" y="100.5" width="1" height="17.1" fill="#8c8c8c"/><rect x="643.75" y="106.6" width="2.4" height="8.5" fill="#dc0000"/><rect x="648.53" y="101.7" width="1" height="18.3" fill="#8c8c8c"/><rect x="647.83" y="104.1" width="2.4" height="11.0" fill="#0c520c"/><rect x="652.60" y="93.2" width="1" height="24.4" fill="#8c8c8c"/><rect x="651.90" y="106.1" width="2.4" height="2.9" fill="#dc0000"/><rect x="656.67" y="86.0" width="1" height="24.2" fill="#8c8c8c"/><rect x="655.97" y="100.5" width="2.4" height="7.3" fill="#0c520c"/><rect x="660.74" y="96.6" width="1" height="29.9" fill="#8c8c8c"/><rect x="660.04" y="100.6" width="2.4" height="19.3" fill="#dc0000"/><rect x="664.81" y="102.2" width="1" height="23.2" fill="#8c8c8c"/><rect x="664.11" y="105.0" width="2.4" height="17.1" fill="#0c520c"/><rect x="668.88" y="103.7" width="1" height="48.2" fill="#8c8c8c"/><rect x="668.18" y="105.0" width="2.4" height="44.7" fill="#dc0000"/><rect x="672.95" y="128.7" width="1" height="35.4" fill="#8c8c8c"/><rect x="672.25" y="142.7" width="2.4" height="7.0" fill="#0c520c"/><rect x="677.02" y="129.8" width="1" height="15.5" fill="#8c8c8c"/><rect x="676.32" y="133.1" width="2.4" height="10.0" fill="#0c520c"/><rect x="681.09" y="118.8" width="1" height="60.8" fill="#8c8c8c"/><rect x="680.39" y="133.8" width="2.4" height="42.5" fill="#dc0000"/><rect x="685.16" y="163.0" width="1" height="22.1" fill="#8c8c8c"/><rect x="684.46" y="176.7" width="2.4" height="1.8" fill="#dc0000"/><rect x="689.23" y="169.6" width="1" height="17.7" fill="#8c8c8c"/><rect x="688.53" y="178.1" width="2.4" height="4.8" fill="#dc0000"/><rect x="693.30" y="169.6" width="1" height="15.5" fill="#8c8c8c"/><rect x="692.60" y="171.4" width="2.4" height="11.5" fill="#0c520c"/><rect x="697.37" y="139.8" width="1" height="34.2" fill="#8c8c8c"/><rect x="696.67" y="143.6" width="2.4" height="27.5" fill="#0c520c"/><rect x="701.44" y="138.6" width="1" height="21.2" fill="#8c8c8c"/><rect x="700.74" y="144.4" width="2.4" height="9.6" fill="#dc0000"/><rect x="705.51" y="126.0" width="1" height="35.0" fill="#8c8c8c"/><rect x="704.81" y="127.3" width="2.4" height="33.2" fill="#0c520c"/><rect x="709.58" y="117.1" width="1" height="17.0" fill="#8c8c8c"/><rect x="708.88" y="125.3" width="2.4" height="1.5" fill="#0c520c"/><rect x="713.65" y="87.7" width="1" height="44.9" fill="#8c8c8c"/><rect x="712.95" y="119.7" width="2.4" height="5.3" fill="#0c520c"/><rect x="717.73" y="79.9" width="1" height="48.7" fill="#8c8c8c"/><rect x="717.03" y="91.0" width="2.4" height="28.7" fill="#0c520c"/><rect x="721.80" y="84.3" width="1" height="24.4" fill="#8c8c8c"/><rect x="721.10" y="93.6" width="2.4" height="3.6" fill="#dc0000"/><rect x="725.87" y="73.3" width="1" height="29.7" fill="#8c8c8c"/><rect x="725.17" y="78.3" width="2.4" height="22.5" fill="#0c520c"/><rect x="729.94" y="44.3" width="1" height="36.5" fill="#8c8c8c"/><rect x="729.24" y="47.6" width="2.4" height="30.0" fill="#0c520c"/><rect x="734.01" y="38.8" width="1" height="47.5" fill="#8c8c8c"/><rect x="733.31" y="47.6" width="2.4" height="37.6" fill="#dc0000"/><rect x="738.08" y="44.3" width="1" height="43.4" fill="#8c8c8c"/><rect x="737.38" y="46.5" width="2.4" height="38.7" fill="#0c520c"/><rect x="742.15" y="21.2" width="1" height="39.7" fill="#8c8c8c"/><rect x="741.45" y="41.0" width="2.4" height="4.8" fill="#0c520c"/><rect x="746.22" y="18.8" width="1" height="26.6" fill="#8c8c8c"/><rect x="745.52" y="36.8" width="2.4" height="4.6" fill="#0c520c"/><rect x="750.29" y="29.9" width="1" height="37.6" fill="#8c8c8c"/><rect x="749.59" y="36.5" width="2.4" height="15.5" fill="#dc0000"/><rect x="754.36" y="38.8" width="1" height="18.8" fill="#8c8c8c"/><rect x="753.66" y="43.2" width="2.4" height="3.3" fill="#dc0000"/><rect x="758.43" y="43.2" width="1" height="36.8" fill="#8c8c8c"/><rect x="757.73" y="50.9" width="2.4" height="25.6" fill="#dc0000"/><rect x="762.50" y="71.0" width="1" height="36.6" fill="#8c8c8c"/><rect x="761.80" y="77.3" width="2.4" height="26.9" fill="#dc0000"/><rect x="766.57" y="103.1" width="1" height="29.9" fill="#8c8c8c"/><rect x="765.87" y="106.5" width="2.4" height="18.5" fill="#dc0000"/><rect x="770.64" y="116.4" width="1" height="31.0" fill="#8c8c8c"/><rect x="769.94" y="124.5" width="2.4" height="7.4" fill="#dc0000"/><rect x="774.71" y="120.8" width="1" height="31.9" fill="#8c8c8c"/><rect x="774.01" y="135.2" width="2.4" height="12.2" fill="#dc0000"/><rect x="778.78" y="131.9" width="1" height="22.8" fill="#8c8c8c"/><rect x="778.08" y="138.2" width="2.4" height="8.5" fill="#0c520c"/><rect x="782.86" y="123.0" width="1" height="18.8" fill="#8c8c8c"/><rect x="782.16" y="128.2" width="2.4" height="8.9" fill="#0c520c"/><rect x="786.93" y="128.6" width="1" height="24.5" fill="#8c8c8c"/><rect x="786.23" y="136.3" width="2.4" height="6.6" fill="#dc0000"/><rect x="791.00" y="137.8" width="1" height="18.9" fill="#8c8c8c"/><rect x="790.30" y="141.6" width="2.4" height="13.7" fill="#dc0000"/><rect x="795.07" y="151.7" width="1" height="26.9" fill="#8c8c8c"/><rect x="794.37" y="154.1" width="2.4" height="22.5" fill="#dc0000"/><rect x="799.14" y="151.7" width="1" height="27.9" fill="#8c8c8c"/><rect x="798.44" y="158.7" width="2.4" height="16.9" fill="#0c520c"/><rect x="803.21" y="145.8" width="1" height="12.9" fill="#8c8c8c"/><rect x="802.51" y="154.7" width="2.4" height="2.8" fill="#0c520c"/></g><text x="949.8" y="17.0" text-anchor="end" font-family='"Liberation Sans", sans-serif' font-size="14.5" fill="#ff0000" textLength="71.5" lengthAdjust="spacingAndGlyphs">R3 - 0.6940</text><text x="949.8" y="81.4" text-anchor="end" font-family='"Liberation Sans", sans-serif' font-size="14.5" fill="#ff0000" textLength="71.5" lengthAdjust="spacingAndGlyphs">R2 - 0.6825</text><text x="949.6" y="143.5" text-anchor="end" font-family='"Liberation Sans", sans-serif' font-size="14.5" fill="#ff0000" textLength="71.5" lengthAdjust="spacingAndGlyphs">R1 - 0.6715</text><text x="950.0" y="240.9" text-anchor="end" font-family='"Liberation Sans", sans-serif' font-size="14.5" fill="#0b720b" textLength="71.5" lengthAdjust="spacingAndGlyphs">S1 - 0.6575</text><text x="949.8" y="298.1" text-anchor="end" font-family='"Liberation Sans", sans-serif' font-size="14.5" fill="#0b720b" textLength="71.5" lengthAdjust="spacingAndGlyphs">S2 - 0.6475</text><text x="949.8" y="359.2" text-anchor="end" font-family='"Liberation Sans", sans-serif' font-size="14.5" fill="#0b720b" textLength="71.5" lengthAdjust="spacingAndGlyphs">S3 - 0.6365</text><rect x="1.5" y="1.5" width="950" height="439.8" fill="none" stroke="#6e6e6e" stroke-width="1"/><rect x="950.9" y="1" width="1.3" height="441" fill="#7c7c7c"/><rect x="1" y="363.8" width="951" height="2" fill="#646464"/><rect x="951.8" y="9.2" width="1.4" height="1" fill="#555"/><text x="954.4" y="11.9" font-family='"Liberation Sans", sans-serif' font-size="6.2" fill="#202020" stroke="#202020" stroke-width="0.18" textLength="17.5" lengthAdjust="spacingAndGlyphs">0.69580</text><rect x="951.8" y="26.0" width="1.4" height="1" fill="#555"/><text x="954.4" y="28.7" font-family='"Liberation Sans", sans-serif' font-size="6.2" fill="#202020" stroke="#202020" stroke-width="0.18" textLength="17.5" lengthAdjust="spacingAndGlyphs">0.69280</text><rect x="951.8" y="43.1" width="1.4" height="1" fill="#555"/><text x="954.4" y="45.8" font-family='"Liberation Sans", sans-serif' font-size="6.2" fill="#202020" stroke="#202020" stroke-width="0.18" textLength="17.5" lengthAdjust="spacingAndGlyphs">0.68985</text><rect x="951.8" y="60.0" width="1.4" height="1" fill="#555"/><text x="954.4" y="62.7" font-family='"Liberation Sans", sans-serif' font-size="6.2" fill="#202020" stroke="#202020" stroke-width="0.18" textLength="17.5" lengthAdjust="spacingAndGlyphs">0.68690</text><rect x="951.8" y="76.0" width="1.4" height="1" fill="#555"/><text x="954.4" y="78.7" font-family='"Liberation Sans", sans-serif' font-size="6.2" fill="#202020" stroke="#202020" stroke-width="0.18" textLength="17.5" lengthAdjust="spacingAndGlyphs">0.68390</text><rect x="951.8" y="93.1" width="1.4" height="1" fill="#555"/><text x="954.4" y="95.8" font-family='"Liberation Sans", sans-serif' font-size="6.2" fill="#202020" stroke="#202020" stroke-width="0.18" textLength="17.5" lengthAdjust="spacingAndGlyphs">0.68095</text><rect x="951.8" y="110.1" width="1.4" height="1" fill="#555"/><text x="954.4" y="112.8" font-family='"Liberation Sans", sans-serif' font-size="6.2" fill="#202020" stroke="#202020" stroke-width="0.18" textLength="17.5" lengthAdjust="spacingAndGlyphs">0.67800</text><rect x="951.8" y="127.1" width="1.4" height="1" fill="#555"/><text x="954.4" y="129.8" font-family='"Liberation Sans", sans-serif' font-size="6.2" fill="#202020" stroke="#202020" stroke-width="0.18" textLength="17.5" lengthAdjust="spacingAndGlyphs">0.67505</text><rect x="951.8" y="143.1" width="1.4" height="1" fill="#555"/><text x="954.4" y="145.8" font-family='"Liberation Sans", sans-serif' font-size="6.2" fill="#202020" stroke="#202020" stroke-width="0.18" textLength="17.5" lengthAdjust="spacingAndGlyphs">0.67210</text><rect x="951.8" y="160.1" width="1.4" height="1" fill="#555"/><text x="954.4" y="162.8" font-family='"Liberation Sans", sans-serif' font-size="6.2" fill="#202020" stroke="#202020" stroke-width="0.18" textLength="17.5" lengthAdjust="spacingAndGlyphs">0.66910</text><rect x="951.8" y="176.9" width="1.4" height="1" fill="#555"/><text x="954.4" y="179.6" font-family='"Liberation Sans", sans-serif' font-size="6.2" fill="#202020" stroke="#202020" stroke-width="0.18" textLength="17.5" lengthAdjust="spacingAndGlyphs">0.66615</text><rect x="951.8" y="193.7" width="1.4" height="1" fill="#555"/><text x="954.4" y="196.4" font-family='"Liberation Sans", sans-serif' font-size="6.2" fill="#202020" stroke="#202020" stroke-width="0.18" textLength="17.5" lengthAdjust="spacingAndGlyphs">0.66315</text><rect x="951.8" y="210.7" width="1.4" height="1" fill="#555"/><text x="954.4" y="213.4" font-family='"Liberation Sans", sans-serif' font-size="6.2" fill="#202020" stroke="#202020" stroke-width="0.18" textLength="17.5" lengthAdjust="spacingAndGlyphs">0.66020</text><rect x="951.8" y="227.7" width="1.4" height="1" fill="#555"/><text x="954.4" y="230.4" font-family='"Liberation Sans", sans-serif' font-size="6.2" fill="#202020" stroke="#202020" stroke-width="0.18" textLength="17.5" lengthAdjust="spacingAndGlyphs">0.65725</text><rect x="951.8" y="244.3" width="1.4" height="1" fill="#555"/><text x="954.4" y="247.0" font-family='"Liberation Sans", sans-serif' font-size="6.2" fill="#202020" stroke="#202020" stroke-width="0.18" textLength="17.5" lengthAdjust="spacingAndGlyphs">0.65425</text><rect x="951.8" y="261.2" width="1.4" height="1" fill="#555"/><text x="954.4" y="263.9" font-family='"Liberation Sans", sans-serif' font-size="6.2" fill="#202020" stroke="#202020" stroke-width="0.18" textLength="17.5" lengthAdjust="spacingAndGlyphs">0.65130</text><rect x="951.8" y="278.1" width="1.4" height="1" fill="#555"/><text x="954.4" y="280.8" font-family='"Liberation Sans", sans-serif' font-size="6.2" fill="#202020" stroke="#202020" stroke-width="0.18" textLength="17.5" lengthAdjust="spacingAndGlyphs">0.64835</text><rect x="951.8" y="294.9" width="1.4" height="1" fill="#555"/><text x="954.4" y="297.6" font-family='"Liberation Sans", sans-serif' font-size="6.2" fill="#202020" stroke="#202020" stroke-width="0.18" textLength="17.5" lengthAdjust="spacingAndGlyphs">0.64535</text><rect x="951.8" y="311.7" width="1.4" height="1" fill="#555"/><text x="954.4" y="314.4" font-family='"Liberation Sans", sans-serif' font-size="6.2" fill="#202020" stroke="#202020" stroke-width="0.18" textLength="17.5" lengthAdjust="spacingAndGlyphs">0.64240</text><rect x="951.8" y="328.5" width="1.4" height="1" fill="#555"/><text x="954.4" y="331.2" font-family='"Liberation Sans", sans-serif' font-size="6.2" fill="#202020" stroke="#202020" stroke-width="0.18" textLength="17.5" lengthAdjust="spacingAndGlyphs">0.63945</text><rect x="951.8" y="362.1" width="1.4" height="1" fill="#555"/><text x="954.4" y="364.8" font-family='"Liberation Sans", sans-serif' font-size="6.2" fill="#202020" stroke="#202020" stroke-width="0.18" textLength="17.5" lengthAdjust="spacingAndGlyphs">0.63350</text><rect x="952.4" y="16.9" width="21.3" height="5.6" fill="#f00000"/><text x="954.4" y="21.8" font-family='"Liberation Sans", sans-serif' font-size="6" fill="#ffffff" textLength="17.3" lengthAdjust="spacingAndGlyphs">0.69400</text><rect x="952.4" y="82.4" width="21.3" height="5.6" fill="#f00000"/><text x="954.4" y="87.3" font-family='"Liberation Sans", sans-serif' font-size="6" fill="#ffffff" textLength="17.3" lengthAdjust="spacingAndGlyphs">0.68250</text><rect x="952.4" y="143.6" width="21.3" height="5.6" fill="#f00000"/><text x="954.4" y="148.5" font-family='"Liberation Sans", sans-serif' font-size="6" fill="#ffffff" textLength="17.3" lengthAdjust="spacingAndGlyphs">0.67150</text><rect x="952.4" y="151.9" width="21.3" height="5.6" fill="#000000"/><text x="954.4" y="156.8" font-family='"Liberation Sans", sans-serif' font-size="6" fill="#ffffff" textLength="17.3" lengthAdjust="spacingAndGlyphs">0.67017</text><rect x="952.4" y="223.2" width="21.3" height="5.6" fill="#006e00"/><text x="954.4" y="228.1" font-family='"Liberation Sans", sans-serif' font-size="6" fill="#ffffff" textLength="17.3" lengthAdjust="spacingAndGlyphs">0.65750</text><rect x="952.4" y="280.7" width="21.3" height="5.6" fill="#006e00"/><text x="954.4" y="285.6" font-family='"Liberation Sans", sans-serif' font-size="6" fill="#ffffff" textLength="17.3" lengthAdjust="spacingAndGlyphs">0.64750</text><rect x="952.4" y="342.7" width="21.3" height="5.6" fill="#006e00"/><text x="954.4" y="347.6" font-family='"Liberation Sans", sans-serif' font-size="6" fill="#ffffff" textLength="17.3" lengthAdjust="spacingAndGlyphs">0.63650</text><line x1="2.6" y1="388.4" x2="951" y2="388.4" stroke="#d2d2d2" stroke-width="1" stroke-dasharray="1.6 1.5"/><line x1="2.6" y1="403.5" x2="951" y2="403.5" stroke="#d2d2d2" stroke-width="1" stroke-dasharray="1.6 1.5"/><line x1="2.6" y1="418.5" x2="951" y2="418.5" stroke="#d2d2d2" stroke-width="1" stroke-dasharray="1.6 1.5"/><g clip-path="url(#cr)"><path d="M1.5,416.4 L5.0,413.7 L9.7,410.2 L13.8,412.8 L17.9,411.4 L22.0,411.4 L26.0,410.2 L30.2,411.4 L34.4,406.1 L38.5,407.2 L42.4,411.1 L46.4,410.2 L50.6,415.5 L54.6,417.6 L58.5,411.9 L62.7,412.5 L66.7,414.2 L70.9,410.2 L74.9,408.9 L79.1,415.5 L83.2,411.9 L87.2,407.5 L91.4,406.1 L95.4,405.4 L99.4,404.3 L103.5,404.0 L107.5,403.1 L111.5,402.5 L115.7,405.7 L119.9,405.4 L123.9,411.1 L127.7,410.4 L132.3,406.4 L136.3,408.3 L139.7,408.7 L143.7,401.3 L148.3,395.3 L151.7,394.4 L156.3,396.3 L159.9,397.1 L164.3,395.6 L169.0,402.0 L173.0,404.0 L176.3,404.3 L181.0,407.6 L185.0,401.1 L189.0,402.7 L193.3,408.3 L197.7,405.6 L201.7,406.4 L205.0,406.7 L209.7,408.7 L213.7,409.1 L217.3,411.3 L221.0,408.0 L225.7,400.9 L230.3,398.7 L233.7,399.7 L238.3,397.1 L242.0,394.9 L245.7,407.6 L249.7,405.3 L254.0,410.7 L258.0,413.1 L262.3,415.3 L266.3,411.7 L270.7,413.1 L274.0,413.1 L278.0,409.6 L282.7,405.3 L286.7,404.0 L290.0,402.4 L294.0,400.7 L298.7,397.7 L303.0,406.4 L306.7,402.4 L310.7,399.3 L314.7,396.3 L318.7,395.1 L322.7,397.1 L327.1,399.7 L331.3,396.7 L336.0,398.3 L339.1,397.7 L342.7,396.3 L347.3,391.6 L352.0,393.3 L355.3,392.5 L360.0,395.3 L364.0,396.7 L368.0,400.7 L372.0,402.7 L376.0,399.7 L380.3,398.0 L384.1,398.7 L388.3,403.3 L392.3,401.1 L396.3,398.4 L400.3,395.7 L405.0,400.0 L408.3,400.7 L412.6,398.4 L417.0,407.6 L421.0,404.3 L425.0,404.9 L429.0,399.7 L433.7,402.7 L437.7,404.3 L441.0,404.8 L445.0,400.3 L449.0,399.1 L453.7,400.7 L457.7,402.4 L461.7,400.4 L465.7,401.6 L469.7,402.4 L473.7,401.6 L477.7,399.7 L481.7,400.7 L485.7,399.7 L490.3,395.7 L494.3,393.3 L498.3,391.3 L503.3,393.3 L507.3,392.7 L510.7,391.7 L514.7,390.4 L518.7,388.3 L522.7,393.3 L526.7,397.7 L530.7,398.7 L534.7,402.0 L538.7,405.3 L543.3,410.9 L547.3,413.6 L551.3,416.7 L555.3,420.0 L559.3,418.7 L563.3,418.0 L567.3,419.3 L571.3,418.0 L576.0,421.6 L580.0,419.3 L583.7,421.3 L588.0,415.3 L592.0,416.3 L596.0,404.3 L600.0,405.6 L603.3,404.7 L608.0,399.3 L612.7,403.3 L616.7,402.4 L620.7,396.7 L624.7,392.0 L628.0,390.3 L632.3,390.4 L636.7,395.3 L640.7,389.6 L645.0,392.7 L649.0,390.9 L653.0,392.3 L657.0,391.1 L661.0,395.3 L665.0,393.3 L669.7,402.0 L673.7,401.1 L677.7,399.7 L681.7,406.7 L685.7,406.9 L689.7,408.0 L693.7,405.3 L697.7,400.7 L702.1,402.7 L706.3,398.7 L710.3,398.0 L713.7,397.1 L718.3,393.3 L722.3,394.4 L726.3,392.0 L730.3,389.1 L734.3,396.7 L738.3,392.7 L742.3,391.3 L746.1,390.8 L751.1,394.6 L754.4,393.8 L758.8,398.8 L763.2,404.1 L767.6,406.9 L771.5,408.0 L775.4,409.9 L779.3,408.0 L783.1,406.3 L787.5,408.7 L791.4,410.6 L795.3,413.2 L800.3,409.3 L803.6,408.7" fill="none" stroke="#6e6e6e" stroke-width="1.2" stroke-linejoin="round"/></g><text x="953.6" y="370.8" font-family='"Liberation Sans", sans-serif' font-size="6.2" fill="#202020" stroke="#202020" stroke-width="0.18" textLength="7.8" lengthAdjust="spacingAndGlyphs">100</text><text x="953.6" y="390.6" font-family='"Liberation Sans", sans-serif' font-size="6.2" fill="#202020" stroke="#202020" stroke-width="0.18" textLength="5.2" lengthAdjust="spacingAndGlyphs">70</text><rect x="951.8" y="387.9" width="1.4" height="1" fill="#555"/><text x="953.6" y="405.7" font-family='"Liberation Sans", sans-serif' font-size="6.2" fill="#202020" stroke="#202020" stroke-width="0.18" textLength="5.2" lengthAdjust="spacingAndGlyphs">50</text><rect x="951.8" y="403.0" width="1.4" height="1" fill="#555"/><text x="953.6" y="420.7" font-family='"Liberation Sans", sans-serif' font-size="6.2" fill="#202020" stroke="#202020" stroke-width="0.18" textLength="5.2" lengthAdjust="spacingAndGlyphs">30</text><rect x="951.8" y="418.0" width="1.4" height="1" fill="#555"/><text x="953.6" y="439.8" font-family='"Liberation Sans", sans-serif' font-size="6.2" fill="#202020" stroke="#202020" stroke-width="0.18" textLength="2.6" lengthAdjust="spacingAndGlyphs">0</text><text x="3.5" y="372" font-family='"Liberation Sans", sans-serif' font-size="6.2" fill="#202020" stroke="#202020" stroke-width="0.18" textLength="38" lengthAdjust="spacingAndGlyphs">RSI(14) 42.8601</text><polygon points="3.2,4.7 6.8,4.7 5,6.9" fill="#000"/><text x="9.2" y="7.5" font-family='"Liberation Sans", sans-serif' font-size="6.1" fill="#202020" stroke="#202020" stroke-width="0.18" textLength="33.8" lengthAdjust="spacingAndGlyphs">AUDUSD,Daily</text><text x="45.7" y="7.5" font-family='"Liberation Sans", sans-serif' font-size="6.1" fill="#202020" stroke="#202020" stroke-width="0.18" textLength="16.4" lengthAdjust="spacingAndGlyphs">0.66954</text><text x="64.2" y="7.5" font-family='"Liberation Sans", sans-serif' font-size="6.1" fill="#202020" stroke="#202020" stroke-width="0.18" textLength="16.4" lengthAdjust="spacingAndGlyphs">0.67178</text><text x="82.5" y="7.5" font-family='"Liberation Sans", sans-serif' font-size="6.1" fill="#202020" stroke="#202020" stroke-width="0.18" textLength="16.4" lengthAdjust="spacingAndGlyphs">0.66902</text><text x="100.7" y="7.5" font-family='"Liberation Sans", sans-serif' font-size="6.1" fill="#202020" stroke="#202020" stroke-width="0.18" textLength="16.7" lengthAdjust="spacingAndGlyphs">0.67017</text><rect x="1.0" y="441" width="1" height="2" fill="#555"/><text x="1.5" y="447.9" font-family='"Liberation Sans", sans-serif' font-size="6.2" fill="#202020" stroke="#202020" stroke-width="0.18" textLength="25.9" lengthAdjust="spacingAndGlyphs">17 Jan 2024</text><rect x="33.6" y="441" width="1" height="2" fill="#555"/><text x="34.1" y="447.9" font-family='"Liberation Sans", sans-serif' font-size="6.2" fill="#202020" stroke="#202020" stroke-width="0.18" textLength="25.9" lengthAdjust="spacingAndGlyphs">29 Jan 2024</text><rect x="66.2" y="441" width="1" height="2" fill="#555"/><text x="66.7" y="447.9" font-family='"Liberation Sans", sans-serif' font-size="6.2" fill="#202020" stroke="#202020" stroke-width="0.18" textLength="23.5" lengthAdjust="spacingAndGlyphs">8 Feb 2024</text><rect x="98.8" y="441" width="1" height="2" fill="#555"/><text x="99.3" y="447.9" font-family='"Liberation Sans", sans-serif' font-size="6.2" fill="#202020" stroke="#202020" stroke-width="0.18" textLength="25.9" lengthAdjust="spacingAndGlyphs">20 Feb 2024</text><rect x="131.4" y="441" width="1" height="2" fill="#555"/><text x="131.9" y="447.9" font-family='"Liberation Sans", sans-serif' font-size="6.2" fill="#202020" stroke="#202020" stroke-width="0.18" textLength="23.5" lengthAdjust="spacingAndGlyphs">1 Mar 2024</text><rect x="164.0" y="441" width="1" height="2" fill="#555"/><text x="164.5" y="447.9" font-family='"Liberation Sans", sans-serif' font-size="6.2" fill="#202020" stroke="#202020" stroke-width="0.18" textLength="25.9" lengthAdjust="spacingAndGlyphs">13 Mar 2024</text><rect x="196.6" y="441" width="1" height="2" fill="#555"/><text x="197.1" y="447.9" font-family='"Liberation Sans", sans-serif' font-size="6.2" fill="#202020" stroke="#202020" stroke-width="0.18" textLength="25.9" lengthAdjust="spacingAndGlyphs">25 Mar 2024</text><rect x="229.2" y="441" width="1" height="2" fill="#555"/><text x="229.7" y="447.9" font-family='"Liberation Sans", sans-serif' font-size="6.2" fill="#202020" stroke="#202020" stroke-width="0.18" textLength="23.5" lengthAdjust="spacingAndGlyphs">4 Apr 2024</text><rect x="261.8" y="441" width="1" height="2" fill="#555"/><text x="262.3" y="447.9" font-family='"Liberation Sans", sans-serif' font-size="6.2" fill="#202020" stroke="#202020" stroke-width="0.18" textLength="25.9" lengthAdjust="spacingAndGlyphs">16 Apr 2024</text><rect x="294.4" y="441" width="1" height="2" fill="#555"/><text x="294.9" y="447.9" font-family='"Liberation Sans", sans-serif' font-size="6.2" fill="#202020" stroke="#202020" stroke-width="0.18" textLength="25.9" lengthAdjust="spacingAndGlyphs">26 Apr 2024</text><rect x="327.0" y="441" width="1" height="2" fill="#555"/><text x="327.5" y="447.9" font-family='"Liberation Sans", sans-serif' font-size="6.2" fill="#202020" stroke="#202020" stroke-width="0.18" textLength="23.5" lengthAdjust="spacingAndGlyphs">8 May 2024</text><rect x="359.6" y="441" width="1" height="2" fill="#555"/><text x="360.1" y="447.9" font-family='"Liberation Sans", sans-serif' font-size="6.2" fill="#202020" stroke="#202020" stroke-width="0.18" textLength="25.9" lengthAdjust="spacingAndGlyphs">20 May 2024</text><rect x="392.2" y="441" width="1" height="2" fill="#555"/><text x="392.7" y="447.9" font-family='"Liberation Sans", sans-serif' font-size="6.2" fill="#202020" stroke="#202020" stroke-width="0.18" textLength="25.9" lengthAdjust="spacingAndGlyphs">30 May 2024</text><rect x="424.8" y="441" width="1" height="2" fill="#555"/><text x="425.3" y="447.9" font-family='"Liberation Sans", sans-serif' font-size="6.2" fill="#202020" stroke="#202020" stroke-width="0.18" textLength="25.9" lengthAdjust="spacingAndGlyphs">11 Jun 2024</text><rect x="457.4" y="441" width="1" height="2" fill="#555"/><text x="457.9" y="447.9" font-family='"Liberation Sans", sans-serif' font-size="6.2" fill="#202020" stroke="#202020" stroke-width="0.18" textLength="25.9" lengthAdjust="spacingAndGlyphs">21 Jun 2024</text><rect x="490.0" y="441" width="1" height="2" fill="#555"/><text x="490.5" y="447.9" font-family='"Liberation Sans", sans-serif' font-size="6.2" fill="#202020" stroke="#202020" stroke-width="0.18" textLength="23.5" lengthAdjust="spacingAndGlyphs">3 Jul 2024</text><rect x="522.6" y="441" width="1" height="2" fill="#555"/><text x="523.1" y="447.9" font-family='"Liberation Sans", sans-serif' font-size="6.2" fill="#202020" stroke="#202020" stroke-width="0.18" textLength="25.9" lengthAdjust="spacingAndGlyphs">15 Jul 2024</text><rect x="555.2" y="441" width="1" height="2" fill="#555"/><text x="555.7" y="447.9" font-family='"Liberation Sans", sans-serif' font-size="6.2" fill="#202020" stroke="#202020" stroke-width="0.18" textLength="25.9" lengthAdjust="spacingAndGlyphs">25 Jul 2024</text><rect x="587.8" y="441" width="1" height="2" fill="#555"/><text x="588.3" y="447.9" font-family='"Liberation Sans", sans-serif' font-size="6.2" fill="#202020" stroke="#202020" stroke-width="0.18" textLength="23.5" lengthAdjust="spacingAndGlyphs">6 Aug 2024</text><rect x="620.4" y="441" width="1" height="2" fill="#555"/><text x="620.9" y="447.9" font-family='"Liberation Sans", sans-serif' font-size="6.2" fill="#202020" stroke="#202020" stroke-width="0.18" textLength="25.9" lengthAdjust="spacingAndGlyphs">16 Aug 2024</text><rect x="653.0" y="441" width="1" height="2" fill="#555"/><text x="653.5" y="447.9" font-family='"Liberation Sans", sans-serif' font-size="6.2" fill="#202020" stroke="#202020" stroke-width="0.18" textLength="25.9" lengthAdjust="spacingAndGlyphs">28 Aug 2024</text><rect x="685.6" y="441" width="1" height="2" fill="#555"/><text x="686.1" y="447.9" font-family='"Liberation Sans", sans-serif' font-size="6.2" fill="#202020" stroke="#202020" stroke-width="0.18" textLength="23.5" lengthAdjust="spacingAndGlyphs">9 Sep 2024</text><rect x="718.2" y="441" width="1" height="2" fill="#555"/><text x="718.7" y="447.9" font-family='"Liberation Sans", sans-serif' font-size="6.2" fill="#202020" stroke="#202020" stroke-width="0.18" textLength="25.9" lengthAdjust="spacingAndGlyphs">19 Sep 2024</text><rect x="750.8" y="441" width="1" height="2" fill="#555"/><text x="751.3" y="447.9" font-family='"Liberation Sans", sans-serif' font-size="6.2" fill="#202020" stroke="#202020" stroke-width="0.18" textLength="23.5" lengthAdjust="spacingAndGlyphs">1 Oct 2024</text><rect x="783.4" y="441" width="1" height="2" fill="#555"/><text x="783.9" y="447.9" font-family='"Liberation Sans", sans-serif' font-size="6.2" fill="#202020" stroke="#202020" stroke-width="0.18" textLength="25.9" lengthAdjust="spacingAndGlyphs">11 Oct 2024</text></svg>
</body></html>
